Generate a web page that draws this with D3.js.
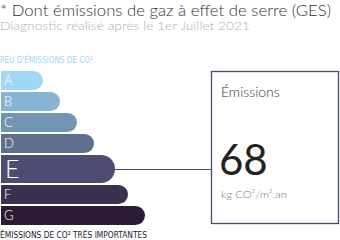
<!DOCTYPE html>
<html><head><meta charset="utf-8">
<script src="https://cdn.jsdelivr.net/npm/d3@7"></script>
<style>body{margin:0;background:#fff}svg{display:block}</style>
</head><body>
<svg id="c" width="340" height="240"></svg>
<script>
const classes = ["A","B","C","D","E","F","G"];
const ranks = [1,2,3,4,5,6,7];
const colors = ["#a1d8f6","#87b4d2","#7394b2","#5f6f8e","#4d4d71","#3a3150","#2b1c33"];
const current = "E";
const value = 68;
const title = "* Dont émissions de gaz à effet de serre (GES)";
const subtitle = "Diagnostic réalisé après le 1er Juillet 2021";
const topLabel = "PEU D'ÉMISSIONS DE CO²";
const bottomLabel = "ÉMISSIONS DE CO² TRÈS IMPORTANTES";
const boxTitle = "Émissions";
const unit = "kg CO²/m².an";

const svg = d3.select("#c");
const font = "Lato, 'Open Sans', sans-serif";
const cond = "'DejaVu Sans Condensed', 'Liberation Sans Narrow', sans-serif";

svg.append("text").attr("x",0).attr("y",16).attr("font-family",font).attr("font-size",16).attr("font-weight",300)
  .attr("fill","#333").attr("textLength",331).attr("lengthAdjust","spacingAndGlyphs").text(title);
svg.append("text").attr("x",0).attr("y",30).attr("font-family",font).attr("font-size",12.5).attr("font-weight",300)
  .attr("fill","#b0b0b0").attr("textLength",250).attr("lengthAdjust","spacingAndGlyphs").text(subtitle);
svg.append("text").attr("x",0).attr("y",63).attr("font-family",cond).attr("font-size",8.5)
  .attr("fill","#9dd6f4").attr("textLength",93).attr("lengthAdjust","spacingAndGlyphs").text(topLabel);
svg.append("text").attr("x",0).attr("y",238).attr("font-family",cond).attr("font-size",9.5)
  .attr("fill","#1a1a2a").attr("textLength",147).attr("lengthAdjust","spacingAndGlyphs").text(bottomLabel);

// scales
const x = d3.scaleLinear().domain([1,7]).range([43,145]);
const weights = classes.map(c => c===current ? 28 : 19);
const gap = 2;
const tops = [];
let acc = 0;
weights.forEach((w,i)=>{ tops.push(acc); acc += w + gap; });
const y = d3.scaleLinear().domain([0, acc]).range([71, 71+acc]);

const x0 = 1;
function barPath(x1, yt, h){
  const r = h/2;
  return `M${x0},${yt}H${x1-r}A${r},${r} 0 0 1 ${x1-r},${yt+h}H${x0}Z`;
}
const g = svg.append("g");
classes.forEach((c,i)=>{
  const h = weights[i];
  const yt = y(tops[i]);
  const xr = x(ranks[i]) + (c===current ? 4 : 0);
  g.append("path").attr("d", barPath(xr, yt, h)).attr("fill", colors[i]);
  g.append("text").attr("x", c===current?5:4).attr("y", yt + h/2).attr("dy","0.36em")
    .attr("font-family",font).attr("font-size", c===current?25:13).attr("font-weight",300)
    .attr("fill","#fff").text(c);
});

// connector and box
const ei = classes.indexOf(current);
const ey = y(tops[ei]) + weights[ei]/2;
const ex = x(ranks[ei]) + 4;
const boxX = 211.5, boxY = 71.5, boxW = 127, boxH = 152;
svg.append("line").attr("x1",ex).attr("x2",boxX).attr("y1",ey+0.5).attr("y2",ey+0.5)
  .attr("stroke","#4d4d71").attr("stroke-width",1.2);
svg.append("rect").attr("x",boxX).attr("y",boxY).attr("width",boxW).attr("height",boxH)
  .attr("fill","#fff").attr("stroke","#4a4d68").attr("stroke-width",1.3);
svg.append("text").attr("x",221).attr("y",97).attr("font-family",font).attr("font-size",14).attr("font-weight",300)
  .attr("fill","#333").text(boxTitle);
svg.append("text").attr("x",219).attr("y",175).attr("font-family",font).attr("font-size",42).attr("font-weight",400)
  .attr("fill","#222").text(value);
svg.append("text").attr("x",221).attr("y",198).attr("font-family",font).attr("font-size",10.5).attr("font-weight",300)
  .attr("fill","#777").attr("textLength",66).attr("lengthAdjust","spacingAndGlyphs").text(unit);
</script>
</body></html>
